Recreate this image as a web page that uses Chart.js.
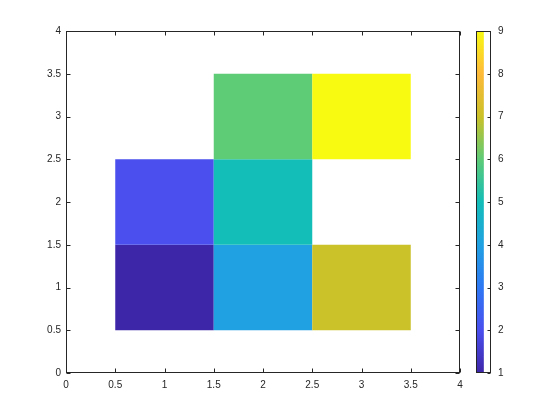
<!DOCTYPE html>
<html>
<head>
<meta charset="utf-8">
<script src="https://cdn.jsdelivr.net/npm/chart.js@4"></script>
<style>
  body { margin: 0; background: #fff; }
  #wrap { position: relative; width: 560px; height: 420px; }
  canvas { position: absolute; left: 0; top: 0; }
</style>
</head>
<body>
<div id="wrap">
  <canvas id="heatmap" width="560" height="420"></canvas>
  <canvas id="colorbar" width="560" height="420"></canvas>
</div>
<script>
// cell centres and values (empty cells are just missing)
const cellX = [1, 2, 3, 1, 2, 2, 3];
const cellY = [1, 1, 1, 2, 2, 3, 3];
const cellValues = [1, 4, 7, 2, 5, 6, 9];

const axisTicks = [0, 0.5, 1, 1.5, 2, 2.5, 3, 3.5, 4];
const colorbarTicks = [1, 2, 3, 4, 5, 6, 7, 8, 9];

// colormap sampled at the colorbar ticks
const cmapValues = [1, 2, 3, 4, 5, 6, 7, 8, 9];
const cmapColors = ['#3e26a8', '#4a4fee', '#2e78f4', '#20a1e2', '#13bdb8', '#5ecb77', '#cbc128', '#feba3a', '#f8fa12'];

const FONT = { family: 'Liberation Sans, Arial, sans-serif', size: 10 };
const TICK_COLOR = '#262626';

function hexToRgb(h) {
    return [1, 3, 5].map(i => parseInt(h.substr(i, 2), 16));
}

function colorFor(v) {
    if (v <= cmapValues[0]) return cmapColors[0];
    for (let i = 1; i < cmapValues.length; i++) {
        if (v <= cmapValues[i]) {
            const t = (v - cmapValues[i - 1]) / (cmapValues[i] - cmapValues[i - 1]);
            const a = hexToRgb(cmapColors[i - 1]), b = hexToRgb(cmapColors[i]);
            const c = a.map((x, k) => Math.round(x + (b[k] - x) * t));
            return `rgb(${c[0]}, ${c[1]}, ${c[2]})`;
        }
    }
    return cmapColors[cmapColors.length - 1];
}

// box + inward ticks, like matlab axes
const frameTicks = {
    id: 'frameTicks',
    afterDraw(chart) {
        const { ctx, chartArea } = chart;
        const l = Math.round(chartArea.left) + 0.5, r = Math.round(chartArea.right) - 0.5;
        const t = Math.round(chartArea.top) + 0.5, b = Math.round(chartArea.bottom) - 0.5;
        ctx.save();
        ctx.strokeStyle = TICK_COLOR;
        ctx.lineWidth = 1;
        ctx.strokeRect(l, t, r - l, b - t);
        ctx.beginPath();
        const len = 4;
        if (chart.scales.x.options.display) {
            chart.scales.x.ticks.forEach(tk => {
                const px = Math.round(chart.scales.x.getPixelForValue(tk.value)) + 0.5;
                ctx.moveTo(px, b); ctx.lineTo(px, b - len);
                ctx.moveTo(px, t); ctx.lineTo(px, t + len);
            });
            chart.scales.y.ticks.forEach(tk => {
                const py = Math.round(chart.scales.y.getPixelForValue(tk.value)) + 0.5;
                ctx.moveTo(l, py); ctx.lineTo(l + len, py);
                ctx.moveTo(r, py); ctx.lineTo(r - len, py);
            });
        } else {
            chart.scales.y.ticks.forEach(tk => {
                const py = Math.round(chart.scales.y.getPixelForValue(tk.value)) + 0.5;
                ctx.moveTo(r, py); ctx.lineTo(r - 3, py);
            });
        }
        ctx.stroke();
        ctx.restore();
    }
};

const cells = cellX.map((x, i) => ({ x: x, y: [cellY[i] - 0.5, cellY[i] + 0.5] }));
const fmt = v => String(v);

new Chart(document.getElementById('heatmap'), {
    type: 'bar',
    data: {
        datasets: [{
            data: cells,
            backgroundColor: cellValues.map(colorFor),
            borderWidth: 0,
            // bar ruler uses the 0.5 tick spacing, so 2x gives one full data unit
            barPercentage: 2,
            categoryPercentage: 1
        }]
    },
    options: {
        responsive: false,
        animation: false,
        layout: { padding: { left: 0, top: 31, right: 100, bottom: 0 } },
        plugins: { legend: { display: false }, tooltip: { enabled: false } },
        scales: {
            x: {
                type: 'linear',
                min: 0, max: 4,
                offset: false,
                grid: { display: false, drawTicks: false },
                border: { display: false },
                afterBuildTicks: s => { s.ticks = axisTicks.map(v => ({ value: v })); },
                afterFit: s => { s.height = 47; },
                ticks: { font: FONT, color: TICK_COLOR, padding: 6, maxRotation: 0, autoSkip: false, callback: fmt }
            },
            y: {
                type: 'linear',
                min: 0, max: 4,
                grid: { display: false, drawTicks: false },
                border: { display: false },
                afterBuildTicks: s => { s.ticks = axisTicks.map(v => ({ value: v })); },
                afterFit: s => { s.width = 66; },
                ticks: { font: FONT, color: TICK_COLOR, padding: 5, autoSkip: false, callback: fmt }
            }
        }
    },
    plugins: [frameTicks]
});

new Chart(document.getElementById('colorbar'), {
    type: 'bar',
    data: {
        labels: [''],
        datasets: [{
            data: [[cmapValues[0], cmapValues[cmapValues.length - 1]]],
            backgroundColor: ctx => {
                const area = ctx.chart.chartArea;
                if (!area) return cmapColors[0];
                const g = ctx.chart.ctx.createLinearGradient(0, area.bottom, 0, area.top);
                const lo = cmapValues[0], hi = cmapValues[cmapValues.length - 1];
                cmapValues.forEach((v, i) => g.addColorStop((v - lo) / (hi - lo), cmapColors[i]));
                return g;
            },
            borderWidth: 0,
            barPercentage: 1,
            categoryPercentage: 1
        }]
    },
    options: {
        responsive: false,
        animation: false,
        layout: { padding: { left: 476, top: 31, right: 49, bottom: 47 } },
        plugins: { legend: { display: false }, tooltip: { enabled: false } },
        scales: {
            x: { display: false, offset: false },
            y: {
                position: 'right',
                min: 1, max: 9,
                grid: { display: false, drawTicks: false },
                border: { display: false },
                afterBuildTicks: s => { s.ticks = colorbarTicks.map(v => ({ value: v })); },
                afterFit: s => { s.width = 20; },
                ticks: { font: FONT, color: TICK_COLOR, padding: 7, autoSkip: false, callback: fmt }
            }
        }
    },
    plugins: [frameTicks]
});
</script>
</body>
</html>
